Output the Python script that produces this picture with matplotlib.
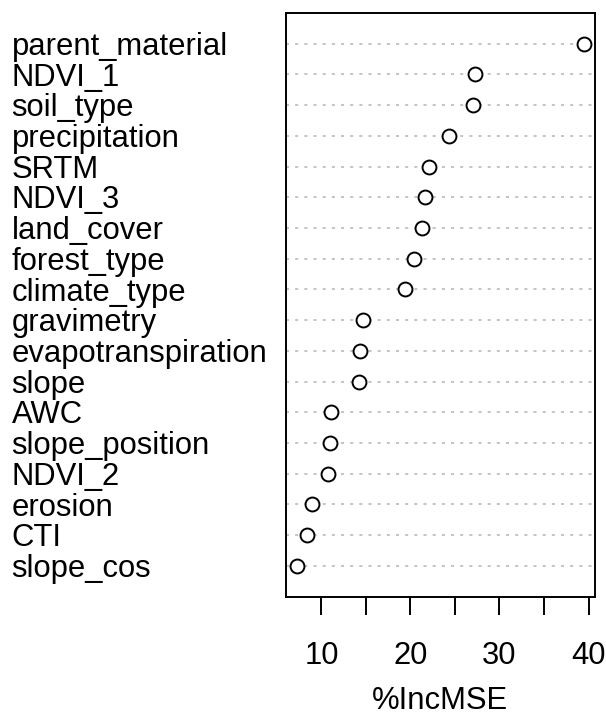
#!/usr/bin/env python3
"""Variable importance dot chart (%IncMSE), R varImpPlot look."""

import matplotlib
matplotlib.use("Agg")
import matplotlib.pyplot as plt
import matplotlib.transforms as mtransforms
import numpy as np

# top to bottom, as drawn
VARIABLES = [
    "parent_material", "NDVI_1", "soil_type", "precipitation", "SRTM",
    "NDVI_3", "land_cover", "forest_type", "climate_type", "gravimetry",
    "evapotranspiration", "slope", "AWC", "slope_position", "NDVI_2",
    "erosion", "CTI", "slope_cos",
]
INC_MSE = [
    39.44, 27.28, 27.02, 24.37, 22.05,
    21.67, 21.30, 20.40, 19.35, 14.69,
    14.31, 14.19, 11.05, 11.00, 10.71,
    8.99, 8.32, 7.27,
]
X_TICKS = [10, 15, 20, 25, 30, 35, 40]
X_TICK_LABELS = ["10", "", "20", "", "30", "", "40"]
X_LABEL = "%IncMSE"


def main():
    plt.rcParams["font.family"] = ["Liberation Sans", "DejaVu Sans"]
    fs = 22.3

    fig = plt.figure(figsize=(6.06, 7.2), dpi=100)
    ax = fig.add_axes([0.4715, 0.1715, 0.9818 - 0.4715, 0.9819 - 0.1715])

    n = len(VARIABLES)
    y = np.arange(n, 0, -1)
    vals = np.array(INC_MSE)

    span = vals.max() - vals.min()
    ax.set_xlim(vals.min() - 0.04 * span, vals.max() + 0.04 * span)
    ax.set_ylim(0, n + 1)

    for yi in y:
        ax.axhline(yi, color="#b4b4b4", linewidth=1.1, linestyle=(0, (2, 4)),
                   zorder=1)
    ax.plot(vals, y, linestyle="none", marker="o", markersize=10,
            markerfacecolor="white", markeredgecolor="black",
            markeredgewidth=1.4, zorder=3)

    for side in ax.spines.values():
        side.set_linewidth(1.4)

    ax.set_yticks([])
    ax.set_xticks(X_TICKS)
    ax.set_xticklabels(X_TICK_LABELS, fontsize=fs)
    ax.tick_params(axis="x", direction="out", length=13, width=1.4,
                   pad=19, colors="black")
    ax.set_xlabel(X_LABEL, fontsize=fs, labelpad=11)

    # left-aligned row labels, cap middle on the row line
    trans = mtransforms.blended_transform_factory(fig.transFigure, ax.transData)
    trans = mtransforms.offset_copy(trans, fig=fig, x=0, y=-8.0, units="points")
    for name, yi in zip(VARIABLES, y):
        fig.text(11.5 / 606, yi, name, transform=trans, fontsize=fs,
                 ha="left", va="baseline")

    fig.savefig("out.png", dpi=100)
    plt.close(fig)


if __name__ == "__main__":
    main()
